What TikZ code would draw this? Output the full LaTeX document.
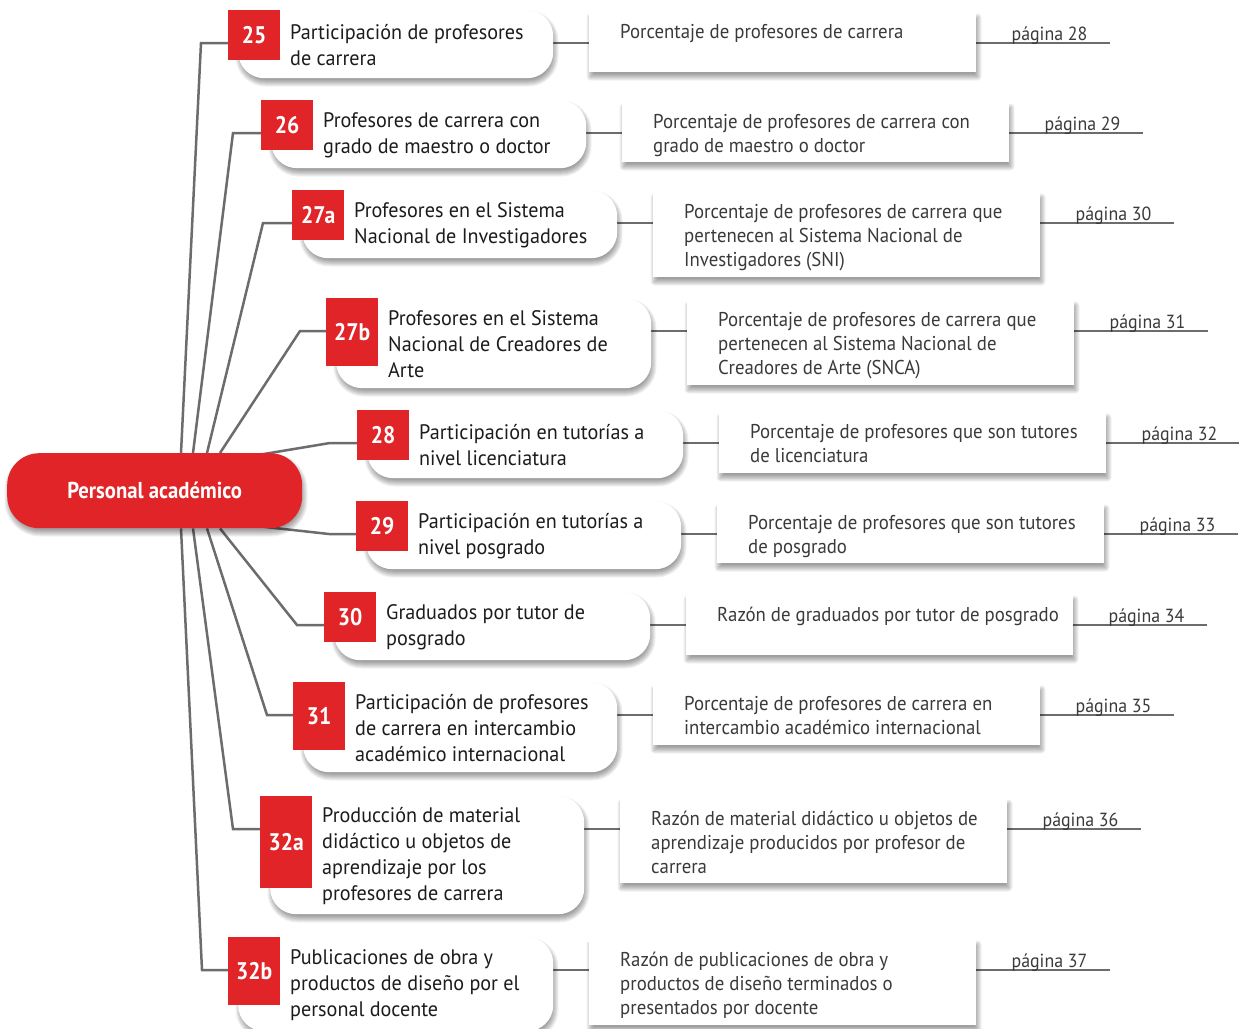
\documentclass[tikz,border=0pt]{standalone}
\usepackage{fontspec}
\setmainfont{PT Sans}[FakeStretch=0.9]
\newfontfamily\lfont{PT Sans}[FakeStretch=0.96]
\newfontfamily\rfont{PT Sans}[FakeStretch=0.94]
\usetikzlibrary{calc}
\definecolor{brand}{RGB}{224,36,40}
\definecolor{linegray}{RGB}{108,108,112}
\definecolor{ltext}{RGB}{30,27,28}
\definecolor{rtext}{RGB}{58,58,60}
\pgfdeclarelayer{bg}
\pgfdeclarelayer{paper}
\pgfsetlayers{paper,bg,main}
% soft shadow drawn as stacked translucent shapes: x1 y1 x2 y2 radius
\newcommand\dropshade[5]{%
  \foreach \dsk in {-3,...,4}{%
    \pgfmathsetmacro\dsrad{max(#5+\dsk,0.1)}%
    \fill[black, opacity=0.055, rounded corners=\dsrad pt] (#1-\dsk+1.5,#2-\dsk+4.5) rectangle (#3+\dsk+1.5,#4+\dsk+4.5);
  }}
\begin{document}
\begin{tikzpicture}[x=1pt,y=-1pt,
  conn/.style={draw=linegray, line width=2.5pt},
  leftbox/.style={fill=white, rounded corners=26pt, inner sep=0pt},
  rightbox/.style={fill=white, inner sep=0pt},
  badge/.style={fill=brand, text=white, inner sep=0pt, minimum width=52, font=\bfseries\fontsize{24}{26}\selectfont},
  ltxt/.style={text=ltext, align=left, inner sep=0pt, font=\lfont\fontsize{21}{26}\selectfont},
  rtxt/.style={text=rtext, align=left, inner sep=0pt, font=\rfont\fontsize{20}{24}\selectfont},
  pgtxt/.style={text=rtext, inner sep=0pt, font=\rfont\fontsize{19}{20}\selectfont},
  rootnode/.style={fill=brand, text=white, rounded corners=32pt, inner sep=0pt, font=\bfseries\fontsize{23}{26}\selectfont}
]
\useasboundingbox (0,0) rectangle (1239,1028);
\begin{pgfonlayer}{paper}
\fill[white] (0,0) rectangle (1239,1028);
\end{pgfonlayer}

\foreach \n/\bx/\by/\bh/\lr/\lh/\ltx/\rh/\rtx/\pg in {
 25/228/10/50/553/68/{Participación de profesores\\de carrera}/59/{Porcentaje de profesores de carrera}/28,
 26/261/100/50/586/68/{Profesores de carrera con\\grado de maestro o doctor}/59/{Porcentaje de profesores de carrera con\\grado de maestro o doctor}/29,
 27a/292/190/50/617/68/{Profesores en el Sistema\\Nacional de Investigadores}/84/{Porcentaje de profesores de carrera que\\pertenecen al Sistema Nacional de\\Investigadores (SNI)}/30,
 27b/326/298/68/651/90/{Profesores en el Sistema\\Nacional de Creadores de\\Arte}/84/{Porcentaje de profesores de carrera que\\pertenecen al Sistema Nacional de\\Creadores de Arte (SNCA)}/31,
 28/357/410/50/683/68/{Participación en tutorías a\\nivel licenciatura}/60/{Porcentaje de profesores que son tutores\\de licenciatura}/32,
 29/356/501/50/681/68/{Participación en tutorías a\\nivel posgrado}/59/{Porcentaje de profesores que son tutores\\de posgrado}/33,
 30/324/592/50/650/68/{Graduados por tutor de\\posgrado}/60/{Razón de graduados por tutor de posgrado}/34,
 31/293/682/68/617/90/{Participación de profesores\\de carrera en intercambio\\académico internacional}/60/{Porcentaje de profesores de carrera en\\intercambio académico internacional}/35,
 32a/260/796/92/584/118/{Producción de material\\didáctico u objetos de\\aprendizaje por los\\profesores de carrera}/84/{Razón de material didáctico u objetos de\\aprendizaje producidos por profesor de\\carrera}/36,
 32b/228/937/68/553/94/{Publicaciones de obra y\\productos de diseño por el\\personal docente}/85/{Razón de publicaciones de obra y\\productos de diseño terminados o\\presentados por docente}/37%
}{
  \pgfmathsetmacro{\lx}{\bx+10}
  \pgfmathsetmacro{\lw}{\lr-\bx-10}
  \pgfmathsetmacro{\lb}{\by+\lh}
  \pgfmathsetmacro{\ly}{\by+\lh/2+1}
  \pgfmathsetmacro{\cy}{\by+33}
  \pgfmathsetmacro{\rx}{\lr+36}
  \pgfmathsetmacro{\ry}{\by+3}
  \pgfmathsetmacro{\rxe}{\lr+36+387}
  \pgfmathsetmacro{\rb}{\by+3+\rh}
  \dropshade{\lx}{\by}{\lr}{\lb}{26}
  \dropshade{\rx}{\ry}{\rxe}{\rb}{0}
  \node[leftbox, anchor=north west, minimum width=\lw, minimum height=\lh] (L\n) at (\lx,\by) {};
  \node[badge, anchor=north west, minimum height=\bh] (B\n) at (\bx,\by) {\n};
  \node[ltxt, anchor=west] (T\n) at (\bx+62,\ly) {\ltx};
  \node[rightbox, anchor=north west, minimum width=387, minimum height=\rh] (R\n) at (\rx,\ry) {};
  \node[rtxt, anchor=north west] (S\n) at (\rx+31,\ry+11.5) {\rtx};
  \coordinate (Y\n) at (0,\cy);
  \coordinate (E\n) at ($(R\n.east |- Y\n)+(134,0)$);
  \node[pgtxt, anchor=base west] (P\n) at ($(R\n.east |- Y\n)+(35,-3)$) {página \pg};
  \begin{pgfonlayer}{bg}
    \draw[conn] (L\n.east |- Y\n) -- (R\n.west |- Y\n);
    \draw[conn] (R\n.east |- Y\n) -- (E\n);
  \end{pgfonlayer}
}

\dropshade{7}{453}{302}{528}{32}
\node[rootnode, anchor=north west, minimum width=295, minimum height=75] (root) at (7,453) {Personal académico};

\coordinate (K25) at (201,43);
\coordinate (K26) at (233,133);
\coordinate (K27a) at (263,223);
\coordinate (K27b) at (300,331);
\coordinate (K28) at (330,443);
\coordinate (K29) at (329,534);
\coordinate (K30) at (297,625);
\coordinate (K31) at (267,715);
\coordinate (K32a) at (233,829);
\coordinate (K32b) at (202,970);

\begin{pgfonlayer}{bg}
\draw[conn] ([xshift=174pt]root.north west) -- (K25) -- (B25.west |- K25);
\draw[conn] ([xshift=186pt]root.north west) -- (K26) -- (B26.west |- K26);
\draw[conn] ([xshift=200pt]root.north west) -- (K27a) -- (B27a.west |- K27a);
\draw[conn] ([xshift=213pt]root.north west) -- (K27b) -- (B27b.west |- K27b);
\draw[conn] ([xshift=251pt,yshift=-2pt]root.north west) -- (K28) -- (B28.west |- K28);
\draw[conn] ([xshift=253pt,yshift=2pt]root.south west) -- (K29) -- (B29.west |- K29);
\draw[conn] ([xshift=213pt]root.south west) -- (K30) -- (B30.west |- K30);
\draw[conn] ([xshift=200pt]root.south west) -- (K31) -- (B31.west |- K31);
\draw[conn] ([xshift=186pt]root.south west) -- (K32a) -- (B32a.west |- K32a);
\draw[conn] ([xshift=174pt]root.south west) -- (K32b) -- (B32b.west |- K32b);
\end{pgfonlayer}
\end{tikzpicture}
\end{document}
